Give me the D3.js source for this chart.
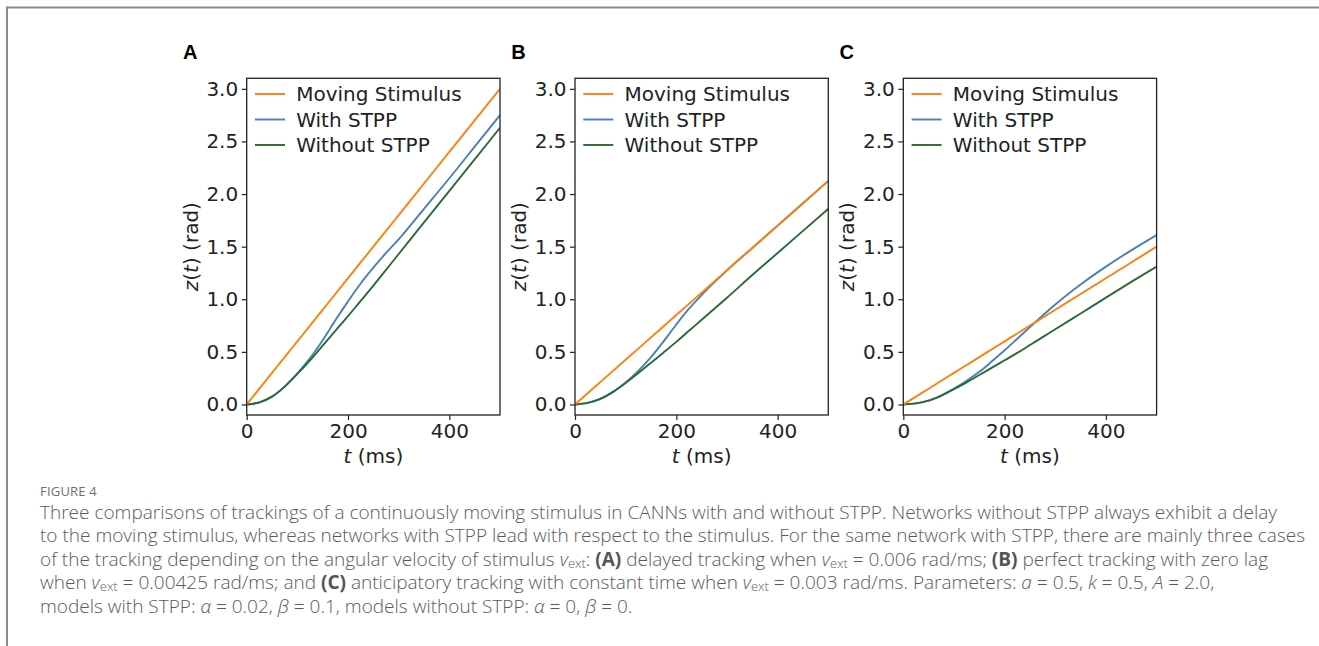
<!DOCTYPE html>
<html>
<head>
<meta charset="utf-8">
<script src="https://cdn.jsdelivr.net/npm/d3@7"></script>
<style>
  html, body { margin: 0; padding: 0; background: #fff; }
  svg { display: block; }
  .tick text { font-family: "DejaVu Sans", sans-serif; font-size: 20px; fill: #222; }
  .tick line, .domain { stroke: #222; }
</style>
</head>
<body>
<svg id="fig" width="1319" height="646"></svg>
<script>
// Sample times (ms) shared by every curve
const timeMs = [0, 25, 50, 75, 100, 125, 150, 175, 200, 225, 250, 275, 300, 350, 400, 450, 500];

// Panel A: v_ext = 0.006 rad/ms
const stimulusA = [0, 0.15, 0.30, 0.45, 0.60, 0.75, 0.90, 1.05, 1.20, 1.35, 1.50, 1.65, 1.80, 2.10, 2.40, 2.70, 3.00];
const withSTPPA = [0, 0.02, 0.075, 0.17, 0.295, 0.44, 0.61, 0.80, 0.98, 1.15, 1.30, 1.44, 1.57, 1.86, 2.15, 2.45, 2.75];
const withoutSTPPA = [0, 0.02, 0.075, 0.17, 0.29, 0.42, 0.56, 0.70, 0.84, 0.985, 1.13, 1.28, 1.43, 1.73, 2.03, 2.33, 2.63];

// Panel B: v_ext = 0.00425 rad/ms
const stimulusB = [0, 0.106, 0.2125, 0.319, 0.425, 0.531, 0.6375, 0.744, 0.85, 0.956, 1.0625, 1.169, 1.275, 1.4875, 1.70, 1.9125, 2.125];
const withSTPPB = [0, 0.015, 0.053, 0.12, 0.21, 0.32, 0.45, 0.60, 0.76, 0.91, 1.04, 1.16, 1.275, 1.4875, 1.70, 1.9125, 2.125];
const withoutSTPPB = [0, 0.015, 0.053, 0.12, 0.205, 0.30, 0.397, 0.495, 0.595, 0.70, 0.805, 0.91, 1.015, 1.23, 1.44, 1.65, 1.86];

// Panel C: v_ext = 0.003 rad/ms
const stimulusC = [0, 0.075, 0.15, 0.225, 0.30, 0.375, 0.45, 0.525, 0.60, 0.675, 0.75, 0.825, 0.90, 1.05, 1.20, 1.35, 1.50];
const withSTPPC = [0, 0.01, 0.037, 0.085, 0.15, 0.225, 0.31, 0.41, 0.515, 0.625, 0.735, 0.845, 0.95, 1.14, 1.31, 1.465, 1.61];
const withoutSTPPC = [0, 0.01, 0.037, 0.085, 0.145, 0.21, 0.28, 0.35, 0.42, 0.49, 0.565, 0.64, 0.715, 0.865, 1.015, 1.165, 1.31];

const panelLabels = ["A", "B", "C"];
const seriesNames = ["Moving Stimulus", "With STPP", "Without STPP"];
const seriesColors = ["#ff7f0e", "#4a80b8", "#2a6a35"];
const yTicks = [0, 0.5, 1.0, 1.5, 2.0, 2.5, 3.0];
const xTicks = [0, 200, 400];

const panels = [
  [stimulusA, withSTPPA, withoutSTPPA],
  [stimulusB, withSTPPB, withoutSTPPB],
  [stimulusC, withSTPPC, withoutSTPPC]
];

// Caption, one entry per printed line; each segment is [text, style]
const captionTitle = "FIGURE 4";
const captionLines = [
  [["Three comparisons of trackings of a continuously moving stimulus in CANNs with and without STPP. Networks without STPP always exhibit a delay", "n"]],
  [["to the moving stimulus, whereas networks with STPP lead with respect to the stimulus. For the same network with STPP, there are mainly three cases", "n"]],
  [["of the tracking depending on the angular velocity of stimulus ", "n"], ["v", "i"], ["ext", "sub"], [": ", "n"], ["(A)", "b"], [" delayed tracking when ", "n"], ["v", "i"], ["ext", "sub"], [" = 0.006 rad/ms; ", "n"], ["(B)", "b"], [" perfect tracking with zero lag", "n"]],
  [["when ", "n"], ["v", "i"], ["ext", "sub"], [" = 0.00425 rad/ms; and ", "n"], ["(C)", "b"], [" anticipatory tracking with constant time when ", "n"], ["v", "i"], ["ext", "sub"], [" = 0.003 rad/ms. Parameters: ", "n"], ["a", "i"], [" = 0.5, ", "n"], ["k", "i"], [" = 0.5, ", "n"], ["A", "i"], [" = 2.0,", "n"]],
  [["models with STPP: ", "n"], ["α", "i"], [" = 0.02, ", "n"], ["β", "i"], [" = 0.1, models without STPP: ", "n"], ["α", "i"], [" = 0, ", "n"], ["β", "i"], [" = 0.", "n"]]
];

const svg = d3.select("#fig");

// Frame: top and left rules
svg.append("line").attr("x1", 7).attr("y1", 7.5).attr("x2", 1319).attr("y2", 7.5)
  .attr("stroke", "#8c8c8c").attr("stroke-width", 2);
svg.append("line").attr("x1", 7).attr("y1", 6.5).attr("x2", 7).attr("y2", 646)
  .attr("stroke", "#8c8c8c").attr("stroke-width", 2);

const panelLeft = [246.7, 575, 903.3];
const plotW = 253.3, plotTop = 78.3, plotBottom = 415;

const y = d3.scaleLinear().domain([-0.1, 3.1]).range([plotBottom, plotTop]);
const labelFont = "DejaVu Sans, sans-serif";

panels.forEach((series, i) => {
  const x0 = panelLeft[i];
  const x = d3.scaleLinear().domain([0, 500]).range([x0, x0 + plotW]);
  const g = svg.append("g");

  // panel letter
  g.append("text").attr("x", x0 - 56.5).attr("y", 59)
    .attr("text-anchor", "middle")
    .attr("font-family", "Liberation Sans, Arial, sans-serif")
    .attr("font-weight", "bold").attr("font-size", 20).attr("fill", "#000")
    .text(panelLabels[i]);

  // curves
  const clipId = "clip" + i;
  svg.append("clipPath").attr("id", clipId).append("rect")
    .attr("x", x0).attr("y", plotTop).attr("width", plotW).attr("height", plotBottom - plotTop);
  const line = d3.line().x((d, k) => x(timeMs[k])).y(d => y(d)).curve(d3.curveMonotoneX);
  const order = [1, 2, 0];
  order.forEach(s => {
    g.append("path").datum(series[s])
      .attr("clip-path", `url(#${clipId})`)
      .attr("d", line).attr("fill", "none")
      .attr("stroke", seriesColors[s]).attr("stroke-width", 1.9)
      .attr("stroke-linejoin", "round").attr("stroke-linecap", "butt");
  });

  // axes
  const yAxis = d3.axisLeft(y).tickValues(yTicks).tickFormat(d3.format(".1f")).tickSize(5).tickPadding(3.5);
  const xAxis = d3.axisBottom(x).tickValues(xTicks).tickFormat(d3.format("d")).tickSize(5).tickPadding(3.5);
  g.append("g").attr("transform", `translate(${x0},0)`).call(yAxis)
    .call(a => a.select(".domain").remove());
  g.append("g").attr("transform", `translate(0,${plotBottom})`).call(xAxis)
    .call(a => a.select(".domain").remove());
  g.selectAll(".tick line").attr("stroke-width", 1.2);

  // plot frame
  g.append("rect").attr("x", x0).attr("y", plotTop).attr("width", plotW).attr("height", plotBottom - plotTop)
    .attr("fill", "none").attr("stroke", "#222").attr("stroke-width", 1.3);

  // legend
  seriesNames.forEach((name, s) => {
    const ly = 94 + s * 25.5;
    g.append("line").attr("x1", x0 + 8.3).attr("x2", x0 + 38.3).attr("y1", ly).attr("y2", ly)
      .attr("stroke", seriesColors[s]).attr("stroke-width", 1.9);
    g.append("text").attr("x", x0 + 49.5).attr("y", ly).attr("dy", "0.36em")
      .attr("font-family", labelFont).attr("font-size", 20).attr("fill", "#222")
      .text(name);
  });

  // x label: t (ms)
  const xl = g.append("text").attr("x", x0 + plotW / 2).attr("y", 463)
    .attr("text-anchor", "middle").attr("font-family", labelFont).attr("font-size", 20).attr("fill", "#222");
  xl.append("tspan").attr("font-style", "italic").text("t");
  xl.append("tspan").text(" (ms)");

  // y label: z(t) (rad)
  const yl = g.append("text")
    .attr("transform", `translate(${x0 - 49},${(plotTop + plotBottom) / 2}) rotate(-90)`)
    .attr("text-anchor", "middle").attr("font-family", labelFont).attr("font-size", 20).attr("fill", "#222");
  yl.append("tspan").attr("font-style", "italic").text("z");
  yl.append("tspan").text("(");
  yl.append("tspan").attr("font-style", "italic").text("t");
  yl.append("tspan").text(") (rad)");
});

// Caption
const capFont = "Open Sans, Lato, sans-serif";
svg.append("text").attr("x", 40).attr("y", 495.5)
  .attr("font-family", capFont).attr("font-size", 13).attr("fill", "#6e6e6e")
  .attr("letter-spacing", "0.2")
  .text(captionTitle);

const capSize = 16;
const capLines = captionLines.map((segs, li) => {
  const t = svg.append("text").attr("x", 40).attr("y", 518.5 + li * 23.5)
    .attr("font-family", capFont).attr("font-weight", 300)
    .attr("font-size", capSize).attr("fill", "#5a5a5a");
  segs.forEach(([txt, kind]) => {
    const sp = t.append("tspan").text(txt);
    if (kind === "b") sp.attr("font-weight", 700).attr("fill", "#555");
    if (kind === "i") sp.attr("font-style", "italic");
    if (kind === "sub") sp.attr("class", "sub").attr("font-size", capSize * 0.68).attr("baseline-shift", "-1.6");
  });
  return t;
});

// size the caption so the first line spans its measured width
const w0 = capLines[0].node().getComputedTextLength();
const fs = capSize * 1238 / w0;
capLines.forEach(t => {
  t.attr("font-size", fs);
  t.selectAll("tspan.sub").attr("font-size", fs * 0.68);
});
</script>
</body>
</html>
